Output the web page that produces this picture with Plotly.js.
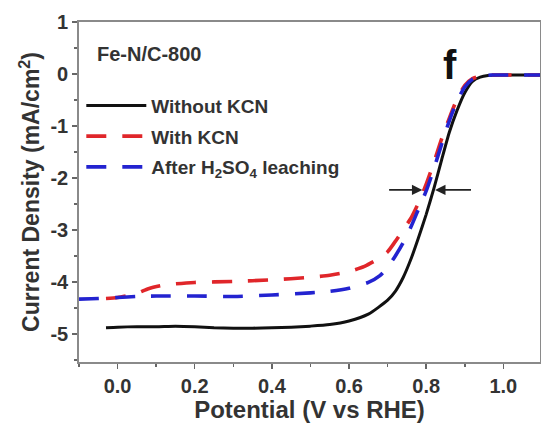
<!DOCTYPE html>
<html>
<head>
<meta charset="utf-8">
<script src="https://cdn.plot.ly/plotly-3.0.1.min.js"></script>
<style>html,body{margin:0;padding:0;background:#fff;}#chart{width:541px;height:423px;}</style>
</head>
<body>
<div id="chart"></div>
<script>
// Without KCN (black solid)
var xBlack = [-0.03, 0.0, 0.05, 0.1, 0.15, 0.2, 0.25, 0.3, 0.35, 0.4, 0.45, 0.5, 0.55, 0.6, 0.65, 0.7, 0.72, 0.74, 0.76, 0.78, 0.8, 0.82, 0.84, 0.86, 0.88, 0.9, 0.92, 0.94, 0.96, 1.0, 1.05, 1.1];
var yBlack = [-4.88, -4.87, -4.86, -4.86, -4.85, -4.86, -4.88, -4.89, -4.89, -4.88, -4.87, -4.85, -4.82, -4.75, -4.62, -4.35, -4.18, -3.92, -3.57, -3.15, -2.7, -2.2, -1.65, -1.12, -0.7, -0.36, -0.14, -0.06, -0.03, -0.02, -0.02, -0.02];
// With KCN (red dashed)
var xRed = [-0.03, 0.0, 0.05, 0.08, 0.12, 0.2, 0.3, 0.4, 0.5, 0.55, 0.6, 0.64, 0.67, 0.7, 0.72, 0.74, 0.76, 0.78, 0.8, 0.82, 0.84, 0.86, 0.88, 0.9, 0.92, 0.94, 0.97, 1.0, 1.1];
var yRed = [-4.32, -4.3, -4.22, -4.13, -4.06, -4.01, -3.99, -3.96, -3.91, -3.87, -3.8, -3.7, -3.58, -3.42, -3.22, -3.0, -2.78, -2.48, -2.12, -1.7, -1.25, -0.85, -0.48, -0.22, -0.09, -0.04, -0.02, -0.02, -0.02];
// After H2SO4 leaching (blue dashed)
var xBlue = [-0.1, -0.05, 0.0, 0.05, 0.1, 0.2, 0.3, 0.4, 0.5, 0.55, 0.6, 0.65, 0.68, 0.7, 0.72, 0.74, 0.76, 0.78, 0.8, 0.82, 0.84, 0.86, 0.88, 0.9, 0.92, 0.94, 0.97, 1.0, 1.1];
var yBlue = [-4.33, -4.32, -4.3, -4.28, -4.27, -4.27, -4.28, -4.25, -4.21, -4.18, -4.12, -4.01, -3.88, -3.72, -3.5, -3.25, -2.95, -2.6, -2.25, -1.82, -1.35, -0.9, -0.52, -0.25, -0.1, -0.04, -0.02, -0.02, -0.02];

var seriesNames = ["Without KCN", "With KCN", "After H<sub>2</sub>SO<sub>4</sub> leaching"];
var xTickVals = [0.0, 0.2, 0.4, 0.6, 0.8, 1.0];
var xTickText = ["0.0", "0.2", "0.4", "0.6", "0.8", "1.0"];
var yTickVals = [1, 0, -1, -2, -3, -4, -5];
var yTickText = ["1", "0", "-1", "-2", "-3", "-4", "-5"];
var arrowY = -2.23;
var arrowLeft = [0.70, 0.79];   // tail, head
var arrowRight = [0.92, 0.823]; // tail, head

var FONT = "Liberation Sans, Arial, sans-serif";
var TXT = "#333333";

var traces = [
  {x: xBlack, y: yBlack, name: seriesNames[0], mode: "lines", legendgroup: "a",
   line: {color: "#111111", width: 3, shape: "spline", smoothing: 0.6}},
  {x: xRed, y: yRed, name: seriesNames[1], mode: "lines", legendgroup: "b",
   line: {color: "#e0262a", width: 3.6, dash: "20px,16px", shape: "spline", smoothing: 0.6}},
  {x: xBlue, y: yBlue, name: seriesNames[2], mode: "lines", legendgroup: "c",
   line: {color: "#2323d0", width: 3.6, dash: "20px,16px", shape: "spline", smoothing: 0.6}}
];

var axisCommon = {
  showgrid: false, zeroline: false, showline: true, mirror: true,
  linecolor: "#8a8a8a", linewidth: 1.8,
  ticks: "outside", ticklen: 5, tickwidth: 1.5, tickcolor: "#666",
  tickfont: {family: FONT, size: 20, color: TXT, weight: "bold"}
};

var layout = {
  width: 541, height: 423,
  margin: {l: 79, r: 1, t: 22, b: 61},
  paper_bgcolor: "#fff", plot_bgcolor: "#fff",
  showlegend: true,
  legend: {x: 0.005, y: 0.81, xanchor: "left", yanchor: "top",
    bgcolor: "rgba(0,0,0,0)", tracegroupgap: 3, itemwidth: 60,
    font: {family: FONT, size: 19, color: TXT, weight: "bold"}},
  xaxis: Object.assign({}, axisCommon, {
    range: [-0.1, 1.095], tickvals: xTickVals, ticktext: xTickText,
    minor: {dtick: 0.1, ticks: "outside", ticklen: 3, tickcolor: "#666"},
    title: {text: "Potential (V vs RHE)", standoff: 0,
      font: {family: FONT, size: 24, color: TXT, weight: "bold"}}
  }),
  yaxis: Object.assign({}, axisCommon, {
    range: [-5.54, 1.0], tickvals: yTickVals, ticktext: yTickText,
    minor: {dtick: 0.5, ticks: "outside", ticklen: 3, tickcolor: "#666"},
    title: {text: "Current Density (mA/cm<sup>2</sup>)", standoff: 4,
      font: {family: FONT, size: 23, color: TXT, weight: "bold"}}
  }),
  annotations: [
    {xref: "paper", yref: "paper", x: 0.035, y: 0.905, xanchor: "left", yanchor: "middle",
     text: "Fe-N/C-800", showarrow: false,
     font: {family: FONT, size: 20, color: TXT, weight: "bold"}},
    {xref: "paper", yref: "paper", x: 0.805, y: 0.875, xanchor: "center", yanchor: "middle",
     text: "f", showarrow: false,
     font: {family: FONT, size: 40, color: "#111", weight: "bold"}},
    {x: arrowLeft[1], y: arrowY, ax: arrowLeft[0], ay: arrowY, axref: "x", ayref: "y",
     xref: "x", yref: "y", text: "", showarrow: true, arrowhead: 2, arrowsize: 1.3,
     arrowwidth: 1.6, arrowcolor: "#222"},
    {x: arrowRight[1], y: arrowY, ax: arrowRight[0], ay: arrowY, axref: "x", ayref: "y",
     xref: "x", yref: "y", text: "", showarrow: true, arrowhead: 2, arrowsize: 1.3,
     arrowwidth: 1.6, arrowcolor: "#222"}
  ]
};

Plotly.newPlot("chart", traces, layout, {displayModeBar: false, staticPlot: true});
</script>
</body>
</html>
